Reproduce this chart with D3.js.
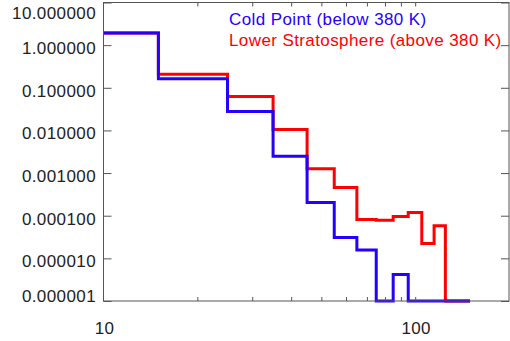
<!DOCTYPE html>
<html>
<head>
<meta charset="utf-8">
<script src="https://cdn.jsdelivr.net/npm/d3@7"></script>
<style>
html,body{margin:0;padding:0;background:#fff;}
svg{display:block;}
text{font-family:"Liberation Sans",Arial,Helvetica,sans-serif;}
</style>
</head>
<body>
<svg id="c" width="510" height="341"></svg>
<script>
// Bin centers (histogram, drawn in step mode)
const binCenters = [10,20,30,40,50,60,70,80,90,100,110,120,130,140,150];
// Cold Point (below 380 K)
const coldPoint = [1.93,0.162,0.0278,0.00247,0.000204,0.0000309,0.0000156,0,0.0000042,0,0,0,0,0,0];
// Lower Stratosphere (above 380 K)
const lowerStrat = [1.93,0.207,0.0623,0.01054,0.00127,0.000457,0.0000815,0.0000785,0.0000958,0.000119,0.0000224,0.0000578,0,0,0];
const yTickValues = [10,1,0.1,0.01,0.001,0.0001,0.00001,0.000001];
const yTickLabels = ["10.000000","1.000000","0.100000","0.010000","0.001000","0.000100","0.000010","0.000001"];
const xMajor = [10,100];
const xMinor = [20,30,40,50,60,70,80,90,200];
const seriesNames = ["Cold Point (below 380 K)","Lower Stratosphere (above 380 K)"];
const seriesColors = ["#2400ff","#ff0000"];

const L=103.5, R=509, T=2.5, B=301;
const svg = d3.select("#c");
const x = d3.scaleLog().domain([10,200]).range([L,R]);
const y = d3.scaleLog().domain([1e-6,10]).range([B,T]);
const axisColor = "#555";

function stepPoints(vals){
  const pts=[];
  const n=binCenters.length;
  for(let i=0;i<n;i++){
    const x0 = i===0 ? binCenters[0] : (binCenters[i-1]+binCenters[i])/2;
    const x1 = i===n-1 ? binCenters[n-1] : (binCenters[i]+binCenters[i+1])/2;
    const v = Math.max(vals[i],1e-6);
    pts.push([x(x0),y(v)]);
    pts.push([x(x1),y(v)]);
  }
  return pts;
}
const line = d3.line();
const g = svg.append("g");
g.append("path").attr("d",line(stepPoints(lowerStrat))).attr("fill","none")
  .attr("stroke",seriesColors[1]).attr("stroke-width",3).attr("stroke-linejoin","miter");
g.append("path").attr("d",line(stepPoints(coldPoint))).attr("fill","none")
  .attr("stroke",seriesColors[0]).attr("stroke-width",3).attr("stroke-linejoin","miter");

// Frame
svg.append("rect").attr("x",L).attr("y",T).attr("width",R-L).attr("height",B-T)
  .attr("fill","none").attr("stroke",axisColor).attr("stroke-width",1);

// Y ticks (left & right)
const yAxisL = d3.axisRight(y).tickValues(yTickValues).tickSize(8).tickFormat("");
const yAxisR = d3.axisLeft(y).tickValues(yTickValues).tickSize(8).tickFormat("");
[svg.append("g").attr("transform",`translate(${L},0)`).call(yAxisL),
 svg.append("g").attr("transform",`translate(${R},0)`).call(yAxisR)].forEach(a=>{
  a.select(".domain").remove();
  a.selectAll("line").attr("stroke",axisColor);
});
// X ticks (bottom & top)
const xTicks = xMajor.concat(xMinor).filter(v=>v>10 && v<200);
const xAxisB = d3.axisTop(x).tickValues(xTicks).tickSize(4).tickFormat("");
const xAxisT = d3.axisBottom(x).tickValues(xTicks).tickSize(4).tickFormat("");
[svg.append("g").attr("transform",`translate(0,${B})`).call(xAxisB),
 svg.append("g").attr("transform",`translate(0,${T})`).call(xAxisT)].forEach(a=>{
  a.select(".domain").remove();
  a.selectAll("line").attr("stroke",axisColor);
});

// Y tick labels
svg.append("g").selectAll("text").data(yTickValues).join("text")
  .attr("x",96)
  .attr("y",(d)=>Math.min(Math.max(y(d)+3,13),296)+6)
  .attr("text-anchor","end").attr("font-size",17).attr("letter-spacing","0.4px").attr("fill","#222")
  .text((d,i)=>yTickLabels[i]);
// X tick labels
svg.append("g").selectAll("text").data(xMajor).join("text")
  .attr("x",d=>x(d)+1).attr("y",334)
  .attr("text-anchor","middle").attr("font-size",17).attr("letter-spacing","0.4px").attr("fill","#222")
  .text(d=>d3.format("d")(d));

// Legend
svg.append("g").selectAll("text").data(seriesNames).join("text")
  .attr("x",229).attr("y",(d,i)=>25+i*20.5)
  .attr("font-size",17).attr("letter-spacing","0.4px").attr("fill",(d,i)=>seriesColors[i])
  .text(d=>d);
</script>
</body>
</html>
